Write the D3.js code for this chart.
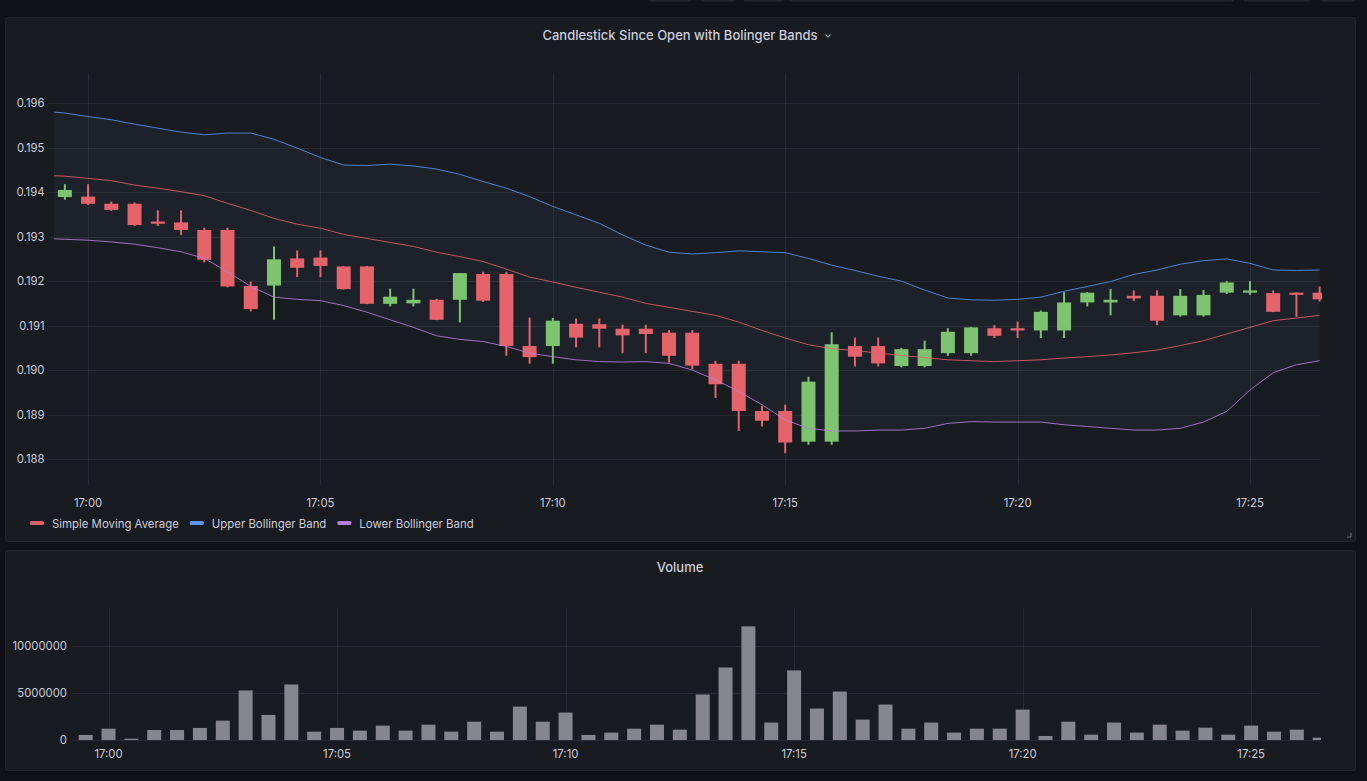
<!DOCTYPE html>
<meta charset="utf-8">
<title>Candlestick Since Open with Bolinger Bands</title>
<style>
  html, body { margin: 0; padding: 0; background: #111217; }
  body { width: 1367px; height: 781px; overflow: hidden; font-family: Inter, "Noto Sans", sans-serif; }
  text { font-family: Inter, "Noto Sans", sans-serif; }
</style>
<body>
<script src="https://cdn.jsdelivr.net/npm/d3@7"></script>
<script>

  // 30 second candles
  var times = ["16:59:30","17:00:00","17:00:30","17:01:00","17:01:30","17:02:00","17:02:30","17:03:00","17:03:30","17:04:00",
               "17:04:30","17:05:00","17:05:30","17:06:00","17:06:30","17:07:00","17:07:30","17:08:00","17:08:30","17:09:00",
               "17:09:30","17:10:00","17:10:30","17:11:00","17:11:30","17:12:00","17:12:30","17:13:00","17:13:30","17:14:00",
               "17:14:30","17:15:00","17:15:30","17:16:00","17:16:30","17:17:00","17:17:30","17:18:00","17:18:30","17:19:00",
               "17:19:30","17:20:00","17:20:30","17:21:00","17:21:30","17:22:00","17:22:30","17:23:00","17:23:30","17:24:00",
               "17:24:30","17:25:00","17:25:30","17:26:00","17:26:30"];

  var open  = [.19389,.19390,.19374,.19374,.19334,.19332,.19315,.19315,.19189,.19190,
               .19251,.19253,.19233,.19233,.19149,.19150,.19158,.19158,.19216,.19216,
               .19054,.19054,.19104,.19103,.19093,.19093,.19084,.19084,.19014,.19014,
               .18908,.18908,.18839,.18839,.19054,.19054,.19009,.19009,.19038,.19038,
               .19094,.19094,.19089,.19089,.19152,.19152,.19167,.19167,.19123,.19123,
               .19174,.19174,.19173,.19174,.19174];
  var high  = [.19418,.19418,.19379,.19377,.19359,.19359,.19320,.19320,.19199,.19278,
               .19269,.19269,.19234,.19234,.19183,.19183,.19160,.19218,.19221,.19221,
               .19118,.19117,.19116,.19116,.19102,.19102,.19090,.19090,.19021,.19021,
               .18919,.18922,.18985,.19085,.19073,.19073,.19050,.19066,.19094,.19097,
               .19101,.19109,.19134,.19175,.19175,.19182,.19179,.19179,.19182,.19180,
               .19200,.19200,.19179,.19175,.19188];
  var low   = [.19383,.19371,.19358,.19324,.19324,.19304,.19242,.19186,.19132,.19113,
               .19209,.19209,.19181,.19148,.19143,.19143,.19112,.19107,.19153,.19032,
               .19014,.19014,.19051,.19051,.19038,.19038,.19017,.19002,.18937,.18863,
               .18873,.18813,.18832,.18832,.19008,.19008,.19006,.19006,.19032,.19032,
               .19072,.19072,.19072,.19072,.19143,.19123,.19155,.19101,.19120,.19120,
               .19171,.19169,.19130,.19120,.19154];
  var close = [.19405,.19374,.19360,.19326,.19329,.19315,.19248,.19188,.19137,.19249,
               .19230,.19234,.19182,.19149,.19165,.19158,.19113,.19218,.19156,.19054,
               .19029,.19111,.19073,.19093,.19078,.19081,.19032,.19010,.18968,.18908,
               .18886,.18837,.18974,.19058,.19030,.19015,.19047,.19047,.19086,.19096,
               .19077,.19089,.19131,.19152,.19174,.19158,.19161,.19111,.19167,.19169,
               .19197,.19179,.19131,.19169,.19159];

  // band series start at the left edge of the time range
  var bandTimes = ["16:59:16"].concat(times);
  var sma   = [.19437,.19436,.19431,.19426,.19416,.19409,.19401,.19392,.19375,.19359,.19341,
               .19328,.19319,.19305,.19296,.19287,.19278,.19265,.19255,.19244,.19227,
               .19209,.19198,.19186,.19175,.19164,.19150,.19141,.19132,.19123,.19108,
               .19089,.19072,.19057,.19048,.19044,.19038,.19033,.19028,.19023,.19021,
               .19019,.19021,.19023,.19027,.19030,.19034,.19039,.19045,.19055,.19066,
               .19081,.19096,.19111,.19117,.19123];
  var upper = [.19580,.19578,.19570,.19563,.19553,.19544,.19535,.19529,.19533,.19533,.19519,
               .19499,.19478,.19461,.19460,.19463,.19459,.19452,.19440,.19424,.19409,
               .19390,.19368,.19349,.19330,.19304,.19281,.19265,.19261,.19264,.19268,
               .19266,.19264,.19251,.19236,.19224,.19211,.19200,.19180,.19162,.19158,
               .19157,.19159,.19164,.19177,.19188,.19199,.19215,.19225,.19238,.19246,
               .19250,.19240,.19225,.19224,.19225];
  var lower = [.19295,.19294,.19292,.19288,.19283,.19275,.19266,.19251,.19221,.19188,.19164,
               .19159,.19156,.19145,.19130,.19113,.19096,.19077,.19069,.19064,.19053,
               .19038,.19030,.19023,.19019,.19018,.19019,.19015,.19000,.18978,.18952,
               .18922,.18888,.18869,.18863,.18863,.18865,.18865,.18869,.18880,.18884,
               .18883,.18883,.18883,.18877,.18873,.18869,.18865,.18865,.18869,.18883,
               .18907,.18955,.18994,.19012,.19021];

  var volume = [540000,1210000,140000,1070000,1070000,1290000,2070000,5290000,2680000,5930000,
                890000,1290000,1000000,1540000,1000000,1640000,890000,1960000,890000,3570000,
                1960000,2930000,540000,790000,1210000,1640000,1110000,4860000,7750000,12140000,
                1860000,7430000,3360000,5180000,2180000,3790000,1210000,1860000,790000,1210000,
                1210000,3250000,430000,1960000,570000,1860000,790000,1640000,1000000,1320000,
                570000,1540000,890000,1110000,250000];

  var priceTicks = [.188,.189,.190,.191,.192,.193,.194,.195,.196];
  var volumeTicks = [0, 5000000, 10000000];
  var timeRange = ["16:59:16", "17:26:33"];

  var seriesNames = ["Simple Moving Average", "Upper Bollinger Band", "Lower Bollinger Band"];
  var seriesColors = ["#e0606a", "#5b95ef", "#b77fdc"];

  var parse = d3.timeParse("%H:%M:%S");
  var fmt = d3.timeFormat("%H:%M");
  var upColor = "#7ec36f", downColor = "#e5646c";
  var gridColor = "rgba(204,204,220,0.09)", textColor = "#ccccdc";
  var tickFont = "11.3px", legendFont = "11.4px", titleFont = "13px";

  var candles = times.map(function (t, i) {
    return { t: parse(t), o: open[i], h: high[i], l: low[i], c: close[i], v: volume[i] };
  });
  var bands = bandTimes.map(function (t, i) {
    return { t: parse(t), sma: sma[i], up: upper[i], lo: lower[i] };
  });

  var width = 1367, height = 781;
  var svg = d3.select("body").append("svg")
      .attr("width", width)
      .attr("height", height);

  // top toolbar remnants
  [[648,690],[700,735],[743,783],[788,1233],[1243,1310],[1320,1355]].forEach(function (b) {
    svg.append("rect").attr("x", b[0] + .5).attr("y", -12).attr("width", b[1] - b[0]).attr("height", 13)
      .attr("rx", 2).attr("fill", "#181b1f").attr("stroke", "#2c2e34");
  });

  // panels
  svg.append("rect").attr("x", 5.5).attr("y", 17.5).attr("width", 1350).attr("height", 524)
    .attr("rx", 2).attr("fill", "#181b1f").attr("stroke", "#23252b");
  svg.append("rect").attr("x", 5.5).attr("y", 550.5).attr("width", 1350).attr("height", 220)
    .attr("rx", 2).attr("fill", "#181b1f").attr("stroke", "#23252b");

  // resize handle
  svg.append("path").attr("d", "M1351,533 L1351,537 L1347,537")
    .attr("fill", "none").attr("stroke", "#6e7077").attr("stroke-width", 1);

  // titles
  svg.append("text").attr("x", 680).attr("y", 35).attr("text-anchor", "middle")
    .attr("dominant-baseline", "central").attr("fill", textColor)
    .style("font-size", titleFont).style("font-weight", 500)
    .text("Candlestick Since Open with Bolinger Bands");
  svg.append("path").attr("d", "M825.5,34.5 L828,37 L830.5,34.5")
    .attr("fill", "none").attr("stroke", "#9fa1a8").attr("stroke-width", 1.1);
  svg.append("text").attr("x", 680).attr("y", 567).attr("text-anchor", "middle")
    .attr("dominant-baseline", "central").attr("fill", textColor)
    .style("font-size", titleFont).style("font-weight", 500)
    .text("Volume");

  // ---------- candlestick panel ----------
  var x = d3.scaleTime()
      .domain(timeRange.map(parse))
      .range([54, 1322]);
  var y = d3.scaleLinear()
      .domain([0.187415, 0.19668])
      .range([485, 73]);

  var g = svg.append("g");
  g.append("clipPath").attr("id", "clipMain")
    .append("rect").attr("x", x.range()[0]).attr("y", 73).attr("width", x.range()[1] - x.range()[0]).attr("height", 412);

  var timeTicks = x.ticks(d3.timeMinute.every(5));

  g.selectAll("line.hgrid").data(priceTicks).enter().append("line")
    .attr("x1", x.range()[0] - 6).attr("x2", x.range()[1] - 2)
    .attr("y1", function (d) { return Math.round(y(d)) + .5; })
    .attr("y2", function (d) { return Math.round(y(d)) + .5; })
    .attr("stroke", gridColor);
  g.selectAll("line.vgrid").data(timeTicks).enter().append("line")
    .attr("x1", function (d) { return Math.round(x(d)) + .5; })
    .attr("x2", function (d) { return Math.round(x(d)) + .5; })
    .attr("y1", 73).attr("y2", 485)
    .attr("stroke", gridColor);

  g.selectAll("text.ylab").data(priceTicks).enter().append("text")
    .attr("x", 44.5).attr("y", function (d) { return y(d); })
    .attr("text-anchor", "end").attr("dominant-baseline", "central")
    .attr("fill", textColor).style("font-size", tickFont)
    .text(function (d) { return d3.format(".3f")(d); });
  g.selectAll("text.xlab").data(timeTicks).enter().append("text")
    .attr("x", function (d) { return x(d); }).attr("y", 503)
    .attr("text-anchor", "middle").attr("dominant-baseline", "central")
    .attr("fill", textColor).style("font-size", tickFont)
    .text(fmt);

  var plot = g.append("g").attr("clip-path", "url(#clipMain)");

  plot.append("path").datum(bands)
    .attr("d", d3.area().x(function (d) { return x(d.t); })
      .y0(function (d) { return y(d.lo); })
      .y1(function (d) { return y(d.up); }))
    .attr("fill", "rgba(110,150,230,0.055)");

  var candleW = 14;
  var cg = plot.selectAll("g.candle").data(candles).enter().append("g");
  cg.append("line")
    .attr("x1", function (d) { return x(d.t); })
    .attr("x2", function (d) { return x(d.t); })
    .attr("y1", function (d) { return y(d.h); })
    .attr("y2", function (d) { return y(d.l); })
    .attr("stroke", function (d) { return d.c >= d.o ? upColor : downColor; })
    .attr("stroke-width", 2);
  cg.append("rect")
    .attr("x", function (d) { return x(d.t) - candleW / 2; })
    .attr("width", candleW)
    .attr("y", function (d) { return y(Math.max(d.o, d.c)); })
    .attr("height", function (d) { return Math.max(1.5, Math.abs(y(d.o) - y(d.c))); })
    .attr("fill", function (d) { return d.c >= d.o ? upColor : downColor; });

  var keys = ["sma", "up", "lo"];
  keys.forEach(function (k, i) {
    plot.append("path").datum(bands)
      .attr("d", d3.line().x(function (d) { return x(d.t); }).y(function (d) { return y(d[k]); }))
      .attr("fill", "none")
      .attr("stroke", seriesColors[i])
      .attr("stroke-opacity", 0.85)
      .attr("stroke-width", 1);
  });

  // legend
  var lx = 30;
  seriesNames.forEach(function (name, i) {
    svg.append("rect").attr("x", lx).attr("y", 521).attr("width", 14).attr("height", 4)
      .attr("rx", 1.5).attr("fill", seriesColors[i]);
    var t = svg.append("text").attr("x", lx + 22).attr("y", 523.5)
      .attr("dominant-baseline", "central").attr("fill", textColor)
      .style("font-size", legendFont).text(name);
    lx += 22 + t.node().getComputedTextLength() + 11;
  });

  // ---------- volume panel ----------
  var xv = d3.scaleTime()
      .domain(timeRange.map(parse))
      .range([75, 1322]);
  var yv = d3.scaleLinear()
      .domain([0, 14100000])
      .range([740, 608]);

  var gv = svg.append("g");
  gv.append("clipPath").attr("id", "clipVol")
    .append("rect").attr("x", xv.range()[0]).attr("y", 600).attr("width", 1321 - xv.range()[0]).attr("height", 141);

  gv.selectAll("line.hgrid").data(volumeTicks).enter().append("line")
    .attr("x1", xv.range()[0] - 3).attr("x2", xv.range()[1] - 2)
    .attr("y1", function (d) { return Math.round(yv(d)) + .5; })
    .attr("y2", function (d) { return Math.round(yv(d)) + .5; })
    .attr("stroke", gridColor);
  gv.selectAll("line.vgrid").data(xv.ticks(d3.timeMinute.every(5))).enter().append("line")
    .attr("x1", function (d) { return Math.round(xv(d)) + .5; })
    .attr("x2", function (d) { return Math.round(xv(d)) + .5; })
    .attr("y1", 608).attr("y2", 740)
    .attr("stroke", gridColor);

  gv.selectAll("text.ylab").data(volumeTicks).enter().append("text")
    .attr("x", 67).attr("y", function (d) { return yv(d); })
    .attr("text-anchor", "end").attr("dominant-baseline", "central")
    .attr("fill", textColor).style("font-size", tickFont)
    .text(function (d) { return d; });
  gv.selectAll("text.xlab").data(xv.ticks(d3.timeMinute.every(5))).enter().append("text")
    .attr("x", function (d) { return xv(d); }).attr("y", 754)
    .attr("text-anchor", "middle").attr("dominant-baseline", "central")
    .attr("fill", textColor).style("font-size", tickFont)
    .text(fmt);

  gv.append("g").attr("clip-path", "url(#clipVol)")
    .selectAll("rect").data(candles).enter().append("rect")
    .attr("x", function (d) { return xv(d.t) - 7; })
    .attr("width", 14)
    .attr("y", function (d) { return yv(d.v); })
    .attr("height", function (d) { return yv(0) - yv(d.v); })
    .attr("fill", "#86868d");

</script>
</body>
